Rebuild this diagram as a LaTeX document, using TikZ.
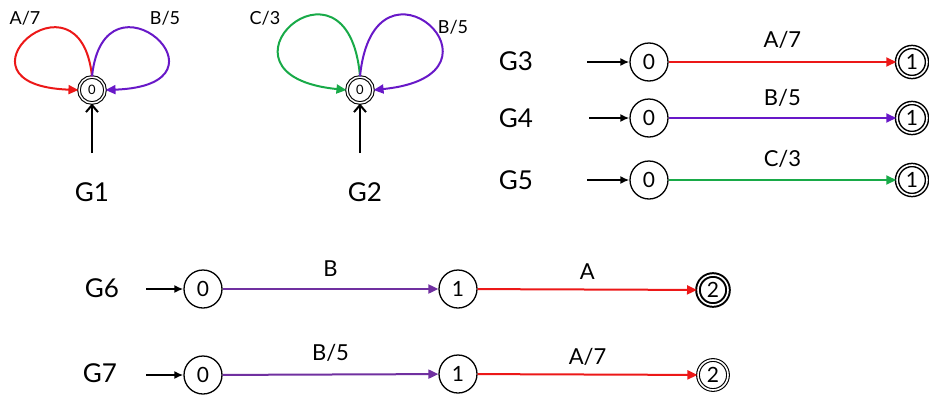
\documentclass[tikz,border=0pt]{standalone}
\usepackage{fontspec}
\setmainfont{Lato}
\usetikzlibrary{arrows.meta, positioning}
\definecolor{edgered}{RGB}{236,24,24}
\definecolor{edgepurple}{RGB}{104,24,200}
\definecolor{pathpurple}{RGB}{112,48,160}
\definecolor{edgegreen}{RGB}{24,170,72}

\begin{document}
\begin{tikzpicture}[
    x=1pt, y=-1pt,
    state/.style={circle, draw, line width=1.3pt, minimum size=38pt, inner sep=0pt, font=\fontsize{21}{24}\selectfont},
    final/.style={state, double, line width=1.5pt, double distance=1.6pt, minimum size=30pt},
    small/.style={circle, draw, double, line width=1.1pt, double distance=1.5pt, minimum size=26pt, inner sep=0pt, font=\fontsize{13}{15}\selectfont},
    glabel/.style={font=\fontsize{26}{30}\selectfont},
    lab/.style={text=black, font=\fontsize{22}{26}\selectfont},
    looplab/.style={font=\fontsize{18}{21}\selectfont},
    edge/.style={line width=2pt, -{Triangle[length=10pt,width=9pt]}},
    init/.style={line width=2pt, -{Latex[length=9pt,width=8pt]}},
    upinit/.style={line width=2pt, -{Straight Barb[length=7pt,width=12pt]}}
]
    \useasboundingbox (0,0) rectangle (929,394);

    % G1 and G2: one state with two loops
    \node[small] (g1) at (92,90) {0};
    \coordinate (g1in) at (92,153);
    \node[glabel] (g1name) at (92,192) {G1};
    \draw[edge, edgered] (g1.north) .. controls +(-12,-116) and +(-138,-5) .. (g1.west);
    \draw[edge, edgepurple] (g1.north) .. controls +(12,-116) and +(138,-5) .. (g1.east);
    \node[looplab] at (25,18) {A/7};
    \node[looplab] at (165,18) {B/5};
    \draw[upinit] (g1in) -- (g1);

    \node[small] (g2) at (360,90) {0};
    \coordinate (g2in) at (360,153);
    \node[glabel] (g2name) at (365,192) {G2};
    \draw[edge, edgegreen] (g2.north) .. controls +(-12,-140) and +(-150,-15) .. (g2.west);
    \draw[edge, edgepurple] (g2.north) .. controls +(14,-140) and +(150,-15) .. (g2.east);
    \node[looplab] at (265,18) {C/3};
    \node[looplab] at (453,27) {B/5};
    \draw[upinit] (g2in) -- (g2);

    % G3 - G5: one transition each
    \node[glabel] (g3name) at (516,61) {G3};
    \coordinate (g3in) at (587,62);
    \node[state] (g3a) at (649,62) {0};
    \node[final] (g3b) at (912,62) {1};
    \draw[init] (g3in) -- (g3a);
    \draw[edge, edgered] (g3a) -- node[lab, above=9pt] {A/7} (g3b);

    \node[glabel] (g4name) at (516,118) {G4};
    \coordinate (g4in) at (589,118);
    \node[state] (g4a) at (649,118) {0};
    \node[final] (g4b) at (912,118) {1};
    \draw[init] (g4in) -- (g4a);
    \draw[edge, edgepurple] (g4a) -- node[lab, above=7pt] {B/5} (g4b);

    \node[glabel] (g5name) at (516,180) {G5};
    \coordinate (g5in) at (587,180);
    \node[state] (g5a) at (649,180) {0};
    \node[final] (g5b) at (912,180) {1};
    \draw[init] (g5in) -- (g5a);
    \draw[edge, edgegreen] (g5a) -- node[lab, above=8pt] {C/3} (g5b);

    % G6 and G7: two transitions
    \node[glabel] (g6name) at (102,288) {G6};
    \coordinate (g6in) at (146,289);
    \node[state] (g6a) at (203,289) {0};
    \node[state] (g6b) at (458,289) {1};
    \node[final, line width=2pt] (g6c) at (713,290) {2};
    \draw[init] (g6in) -- (g6a);
    \draw[edge, pathpurple] (g6a) -- node[lab, above=8pt] {B} (g6b);
    \draw[edge, edgered] (g6b) -- node[lab, above=6pt] {A} (g6c);

    \node[glabel] (g7name) at (100,373) {G7};
    \coordinate (g7in) at (146,375);
    \node[state] (g7a) at (203,375) {0};
    \node[state] (g7b) at (458,374) {1};
    \node[final, line width=1.1pt] (g7c) at (713,375) {2};
    \draw[init] (g7in) -- (g7a);
    \draw[edge, pathpurple] (g7a) -- node[lab, above=9pt] {B/5} (g7b);
    \draw[edge, edgered] (g7b) -- node[lab, above=5pt] {A/7} (g7c);
\end{tikzpicture}
\end{document}
